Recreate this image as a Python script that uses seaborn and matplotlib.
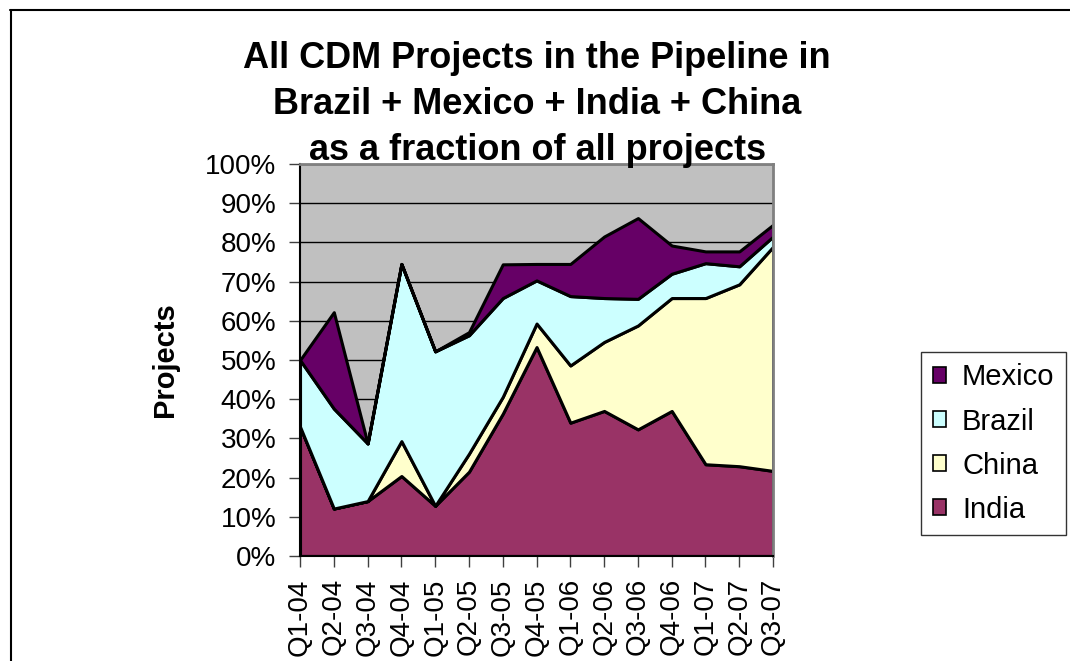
import numpy as np
import pandas as pd
import matplotlib.pyplot as plt
from matplotlib.lines import Line2D
from matplotlib.patches import Patch
import seaborn as sns

# quarterly share of all CDM projects in the pipeline (%)
quarters = ["Q1-04", "Q2-04", "Q3-04", "Q4-04", "Q1-05", "Q2-05", "Q3-05", "Q4-05",
            "Q1-06", "Q2-06", "Q3-06", "Q4-06", "Q1-07", "Q2-07", "Q3-07"]
india = [33.0, 12.1, 14.0, 20.4, 12.8, 21.5, 36.3, 53.3, 34.0, 37.0, 32.3, 37.0, 23.4, 22.9, 21.7]
china = [0.0, 0.0, 0.0, 8.9, 0.0, 4.6, 4.3, 6.0, 14.6, 17.6, 26.5, 28.8, 42.4, 46.4, 57.2]
brazil = [17.0, 25.5, 14.7, 45.2, 39.4, 30.2, 25.2, 11.0, 17.7, 11.2, 6.8, 6.2, 8.9, 4.6, 2.6]
mexico = [0.0, 24.6, 0.0, 0.0, 0.0, 0.8, 8.6, 4.2, 8.2, 15.7, 20.6, 7.2, 3.0, 3.8, 3.0]

countries = ["India", "China", "Brazil", "Mexico"]
colors = ["#993366", "#FFFFCC", "#CCFFFF", "#660066"]
title_lines = ["All CDM Projects in the Pipeline in",
               "Brazil + Mexico + India + China",
               "as a fraction of all projects"]

df = pd.DataFrame({"India": india, "China": china, "Brazil": brazil, "Mexico": mexico},
                  index=quarters)

sns.set_theme(style="white", rc={"text.color": "black", "axes.labelcolor": "black",
                                 "xtick.color": "black", "ytick.color": "black"})
plt.rcParams["font.family"] = ["Liberation Sans", "DejaVu Sans"]

fig = plt.figure(figsize=(10.7, 6.61), dpi=100)
ax = fig.add_axes([0.2804, 0.1589, 0.4421, 0.5930])
ax.set_facecolor("#C0C0C0")

x = np.arange(len(quarters))
ax.yaxis.grid(True, color="black", linewidth=1.0)
ax.set_axisbelow(True)
ax.stackplot(x, [df[c].values for c in countries], colors=colors,
             edgecolor="black", linewidth=2.2, zorder=2)

ax.set_xlim(0, len(quarters) - 1)
ax.set_ylim(0, 100)
ax.set_yticks(np.arange(0, 101, 10))
ax.set_yticklabels([f"{v}%" for v in range(0, 101, 10)])
ax.set_xticks(x)
ax.set_xticklabels(quarters, rotation=90)
ax.tick_params(axis="y", labelsize=20, length=8, width=1, color="#404040",
               pad=9, left=True, direction="out")
ax.tick_params(axis="x", labelsize=20, length=8, width=1, color="#404040",
               pad=8, bottom=True, direction="out")

for side in ["left", "bottom"]:
    ax.spines[side].set_color("black")
    ax.spines[side].set_linewidth(1.5)
for side in ["top", "right"]:
    ax.spines[side].set_color("#808080")
    ax.spines[side].set_linewidth(2)

ax.set_ylabel("Projects", fontsize=21, fontweight="bold")
ax.yaxis.set_label_coords(-0.255, 0.5)

# three-line title, one text per line
for line, base in zip(title_lines, [68, 114, 160]):
    fig.text(0.502, 1 - base / 661, line, ha="center", va="baseline",
             fontsize=26, fontweight="bold")

handles = [Patch(facecolor=colors[i], edgecolor="black", linewidth=1.2, label=countries[i])
           for i in [3, 2, 1, 0]]
leg = fig.legend(handles=handles, loc="center left", bbox_to_anchor=(0.861, 0.329),
                 fontsize=21, frameon=True, fancybox=False, shadow=False,
                 handlelength=0.45, handleheight=0.45, handletextpad=0.55,
                 labelspacing=0.55, borderpad=0.4, borderaxespad=0)
leg.get_frame().set_edgecolor("black")
leg.get_frame().set_linewidth(1)

# chart-area border (top and left edges visible)
fig.add_artist(Line2D([10 / 1070, 1], [1 - 9.5 / 661, 1 - 9.5 / 661],
                      transform=fig.transFigure, color="black", linewidth=1.5))
fig.add_artist(Line2D([10.5 / 1070, 10.5 / 1070], [0, 1 - 9.5 / 661],
                      transform=fig.transFigure, color="black", linewidth=1.5))

fig.savefig("out.png", dpi=100)
